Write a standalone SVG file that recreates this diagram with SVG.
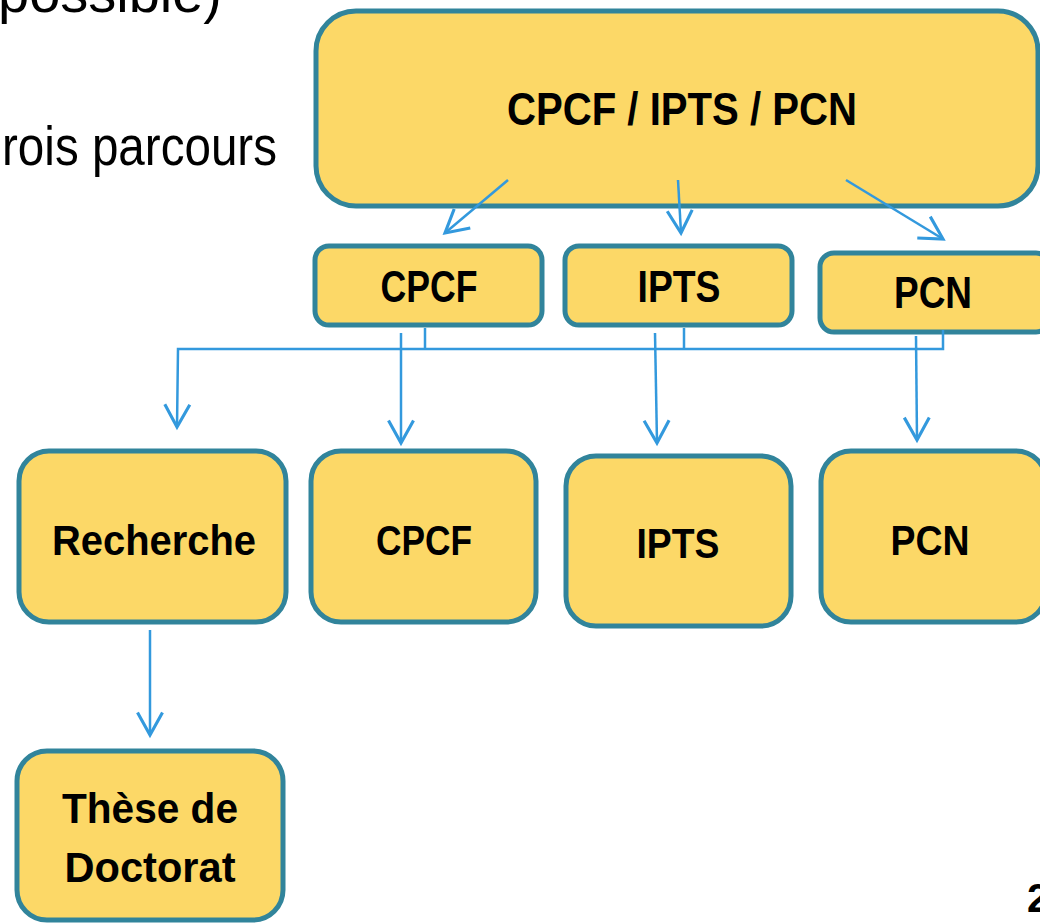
<svg xmlns="http://www.w3.org/2000/svg" width="1040" height="924" viewBox="0 0 1040 924">
<style>
.box{fill:#FCD867;stroke:#31849B;stroke-width:5}
.lbl{font-family:"Liberation Sans",Arial,sans-serif;font-weight:bold;font-size:42px;fill:#000;text-anchor:middle}
.body{font-family:"Liberation Sans",Arial,sans-serif;font-size:56px;fill:#000}
.conn{fill:none;stroke:#3399DD;stroke-width:2.5}
</style>
<defs>
<marker id="arr" markerUnits="userSpaceOnUse" markerWidth="30" markerHeight="30" viewBox="-20 -12 22 24" refX="0" refY="0" orient="auto">
<path d="M-18,-10 L0,0 L-18,10" fill="none" stroke="#3399DD" stroke-width="2.5"/>
</marker>
</defs>
<rect width="1040" height="924" fill="#fff"/>
<text class="body" x="-2" y="12" textLength="224" lengthAdjust="spacingAndGlyphs">possible)</text>
<text class="body" x="2" y="165" textLength="275" lengthAdjust="spacingAndGlyphs">rois parcours</text>
<text x="1027" y="912" style="font-family:'Liberation Sans',Arial,sans-serif;font-weight:bold;font-size:40px">2</text>

<g id="node-top">
<rect class="box" x="316" y="11" width="722" height="195" rx="40"/>
<text class="lbl" x="682" y="125" style="font-size:46px" textLength="350" lengthAdjust="spacingAndGlyphs">CPCF / IPTS / PCN</text>
</g>
<g id="node-cpcf-mid">
<rect class="box" x="315" y="246" width="227" height="79" rx="14"/>
<text class="lbl" x="429" y="302" style="font-size:44px" textLength="97" lengthAdjust="spacingAndGlyphs">CPCF</text>
</g>
<g id="node-ipts-mid">
<rect class="box" x="565" y="246" width="227" height="79" rx="14"/>
<text class="lbl" x="679" y="302" style="font-size:44px" textLength="83" lengthAdjust="spacingAndGlyphs">IPTS</text>
</g>
<g id="node-pcn-mid">
<rect class="box" x="820" y="253" width="230" height="79" rx="14"/>
<text class="lbl" x="933" y="308" style="font-size:44px" textLength="78" lengthAdjust="spacingAndGlyphs">PCN</text>
</g>
<g id="node-recherche">
<rect class="box" x="19" y="451" width="267" height="171" rx="30"/>
<text class="lbl" x="154" y="555" textLength="204" lengthAdjust="spacingAndGlyphs">Recherche</text>
</g>
<g id="node-cpcf">
<rect class="box" x="311" y="451" width="225" height="171" rx="30"/>
<text class="lbl" x="424" y="555" textLength="96" lengthAdjust="spacingAndGlyphs">CPCF</text>
</g>
<g id="node-ipts">
<rect class="box" x="566" y="456" width="225" height="170" rx="30"/>
<text class="lbl" x="678" y="558" textLength="83" lengthAdjust="spacingAndGlyphs">IPTS</text>
</g>
<g id="node-pcn">
<rect class="box" x="821" y="451" width="225" height="171" rx="30"/>
<text class="lbl" x="930" y="555" textLength="79" lengthAdjust="spacingAndGlyphs">PCN</text>
</g>
<g id="node-these">
<rect class="box" x="17" y="751" width="266" height="169" rx="30"/>
<text class="lbl" x="150" y="823" textLength="176" lengthAdjust="spacingAndGlyphs">Thèse de</text>
<text class="lbl" x="150" y="882" textLength="171" lengthAdjust="spacingAndGlyphs">Doctorat</text>
</g>

<g id="connectors">
<line class="conn" x1="508" y1="180" x2="445" y2="233" marker-end="url(#arr)"/>
<line class="conn" x1="678" y1="180" x2="681" y2="233" marker-end="url(#arr)"/>
<line class="conn" x1="846" y1="180" x2="943" y2="239" marker-end="url(#arr)"/>
<polyline class="conn" points="943,330 943,349 178,349 177,427" marker-end="url(#arr)"/>
<line class="conn" x1="425" y1="328" x2="425" y2="349"/>
<line class="conn" x1="684" y1="328" x2="684" y2="349"/>
<line class="conn" x1="401" y1="333" x2="401" y2="443" marker-end="url(#arr)"/>
<line class="conn" x1="655" y1="333" x2="657" y2="443" marker-end="url(#arr)"/>
<line class="conn" x1="916" y1="336" x2="917" y2="440" marker-end="url(#arr)"/>
<line class="conn" x1="150" y1="630" x2="150" y2="735" marker-end="url(#arr)"/>
</g>
</svg>
